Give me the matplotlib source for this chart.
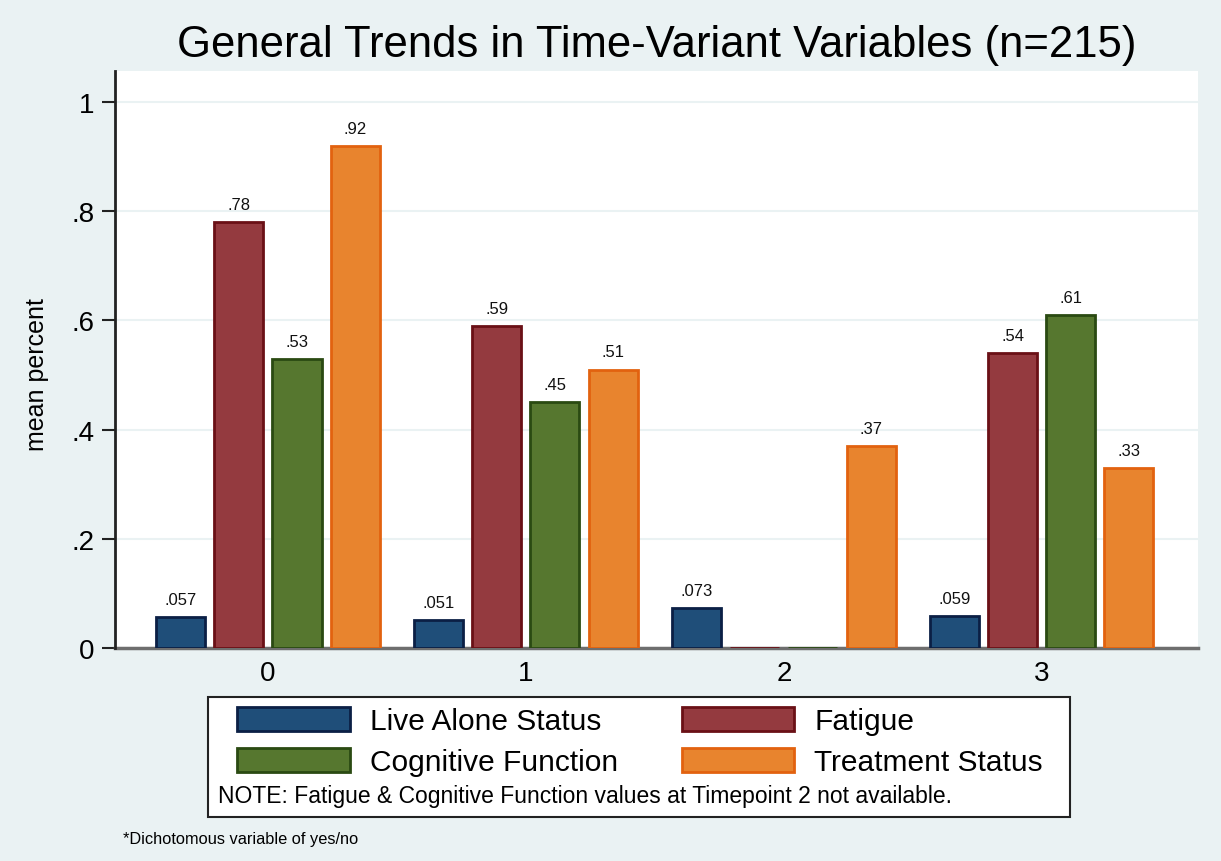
import matplotlib
matplotlib.use("Agg")
import matplotlib.pyplot as plt
from matplotlib.patches import Rectangle, Patch
import numpy as np

plt.rcParams['font.family'] = ['Liberation Sans', 'DejaVu Sans']

timepoints = ["0", "1", "2", "3"]
series_names = ["Live Alone Status", "Fatigue", "Cognitive Function", "Treatment Status"]
live_alone = [0.057, 0.051, 0.073, 0.059]
fatigue = [0.78, 0.59, 0.0, 0.54]
cognitive = [0.53, 0.45, 0.0, 0.61]
treatment = [0.92, 0.51, 0.37, 0.33]
available = [[True, True, True, True],
             [True, True, False, True],
             [True, True, False, True],
             [True, True, True, True]]
ytick_vals = [0, 0.2, 0.4, 0.6, 0.8, 1.0]
ytick_labels = ["0", ".2", ".4", ".6", ".8", "1"]

fills = ["#1F4E79", "#943A3F", "#56772F", "#E8842E"]
edges = ["#0B1F45", "#6A1016", "#2A4A12", "#E2620F"]

bg = "#EAF2F3"
W, H = 1221, 862
fig = plt.figure(figsize=(W / 100, H / 100), dpi=100, facecolor=bg)
ax = fig.add_axes([115 / W, 1 - 649 / H, (1198 - 115) / W, (649 - 72) / H])
ax.set_facecolor("white")

series = [live_alone, fatigue, cognitive, treatment]
x = np.arange(len(timepoints))
step = 0.225
width = 0.19
for i, vals in enumerate(series):
    offs = (i - 1.5) * step
    ax.bar(x + offs, vals, width=width, color=fills[i], edgecolor=edges[i],
           linewidth=2, zorder=3)
    for j, v in enumerate(vals):
        if available[i][j]:
            lab = ("%.2g" % v).lstrip("0") if v != 0 else "0"
            ax.text(x[j] + offs, v + 0.024, lab, ha="center", va="baseline",
                    fontsize=12, color="#111111", zorder=4)

ax.set_xlim(-0.593, 3.605)
ax.set_ylim(0, 1.0568)
ax.set_yticks(ytick_vals)
ax.set_yticklabels(ytick_labels, fontsize=20)
ax.set_xticks(x)
ax.set_xticklabels(timepoints, fontsize=20)
ax.tick_params(axis="x", length=0, pad=9)
ax.tick_params(axis="y", length=9.5, width=1.5, direction="out", color="#222222", pad=5)
for yv in ytick_vals[1:]:
    ax.axhline(yv, color=bg, linewidth=1.5, zorder=1)
ax.spines["top"].set_visible(False)
ax.spines["right"].set_visible(False)
ax.spines["left"].set_color("#222222")
ax.spines["left"].set_linewidth(2)
ax.spines["bottom"].set_color("#6E6E6E")
ax.spines["bottom"].set_linewidth(2.5)
ax.spines["bottom"].set_zorder(2)
ax.set_ylabel("mean percent", fontsize=18)
ax.yaxis.set_label_coords((49 - 115) / (1198 - 115), (649 - 375) / (649 - 72))

fig.text(0.538, 1 - 45 / H, "General Trends in Time-Variant Variables (n=215)",
         ha="center", va="center", fontsize=31.4)

# legend box
box = Rectangle((208 / W, 1 - 818 / H), (1070 - 208) / W, (818 - 698) / H,
                transform=fig.transFigure, facecolor="white", edgecolor="#222222",
                linewidth=1.5, zorder=1)
fig.patches.append(box)
handles = [Patch(facecolor=fills[k], edgecolor=edges[k], linewidth=2, label=series_names[k])
           for k in [0, 2, 1, 3]]
leg = fig.legend(handles=handles, ncol=2, loc="upper left",
                 bbox_to_anchor=(237 / W, 1 - 708 / H), frameon=False,
                 borderaxespad=0, borderpad=0,
                 fontsize=21.5, handlelength=3.77, handleheight=0.87,
                 columnspacing=2.15, handletextpad=0.67, labelspacing=0.42)
fig.text(218 / W, 1 - 797 / H,
         "NOTE: Fatigue & Cognitive Function values at Timepoint 2 not available.",
         ha="left", va="center", fontsize=16.5)
fig.text(123 / W, 1 - 840 / H, "*Dichotomous variable of yes/no",
         ha="left", va="center", fontsize=11.8)

fig.savefig("out.png", dpi=100, facecolor=bg)
